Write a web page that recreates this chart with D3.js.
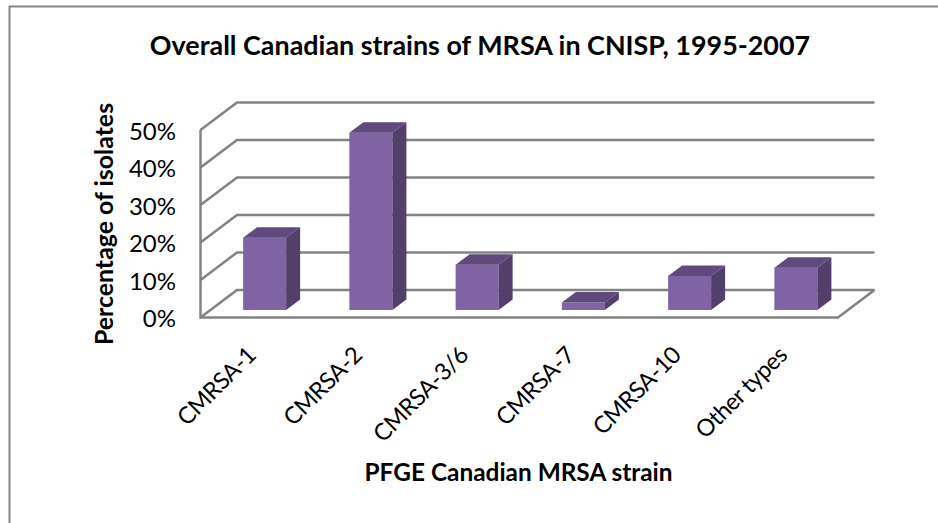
<!DOCTYPE html>
<html>
<head>
<meta charset="utf-8">
<script src="https://d3js.org/d3.v7.min.js"></script>
<style>
  body { margin: 0; background: #fff; }
  svg { display: block; }
  text { font-family: Lato, "Open Sans", sans-serif; fill: #000; }
</style>
</head>
<body>
<div id="chart"></div>
<script>
// values
var categories = ["CMRSA-1", "CMRSA-2", "CMRSA-3/6", "CMRSA-7", "CMRSA-10", "Other types"];
var percentages = [19.3, 47.3, 12.1, 2, 9.1, 11.3];
var yTicks = [0, 10, 20, 30, 40, 50];

var width = 938, height = 523;

// plot box (front plane of the fake 3d chart)
var margin = {left: 200.5, right: 100, top: 130, bottom: 205.5};
var depth = {x: 36.5, y: -27.5};          // floor depth
var barShift = {x: 10, y: -7.5};          // where the bar's front face sits on the floor
var barDepth = {x: 14, y: -10.5};

var svg = d3.select("#chart").append("svg")
    .attr("width", width)
    .attr("height", height);

// blur, the reference is a soft upscaled image
var blur = svg.append("defs").append("filter")
    .attr("id", "soft");
blur.append("feGaussianBlur").attr("stdDeviation", 0.45);

// outer frame, only top and left are visible
svg.append("path")
    .attr("d", "M9.5," + height + "V6.5H" + width)
    .attr("fill", "none")
    .attr("stroke", "#858585")
    .attr("stroke-width", 2);

var x = d3.scaleBand()
    .domain(categories)
    .range([margin.left, width - margin.right]);

var y = d3.scaleLinear()
    .domain([0, 50])
    .range([height - margin.bottom, margin.top]);

// walls and floor
var grid = svg.append("g")
    .attr("fill", "none")
    .attr("stroke", "#828282")
    .attr("stroke-width", 2.5)
    .attr("filter", "url(#soft)");

grid.selectAll(".wall")
    .data(yTicks)
    .enter().append("path")
    .attr("class", "wall")
    .attr("d", function(d) {
        return "M" + margin.left + "," + y(d) +
            "L" + (margin.left + depth.x) + "," + (y(d) + depth.y) +
            "H" + (width - margin.right + depth.x);
    });

grid.append("path")
    .attr("d", "M" + margin.left + "," + y(50) + "V" + y(0) +
        "H" + (width - margin.right) +
        "L" + (width - margin.right + depth.x) + "," + (y(0) + depth.y));

// bars: front, top and side faces
var barWidth = 43;
var bars = svg.selectAll(".bar")
    .data(percentages)
    .enter().append("g")
    .attr("class", "bar")
    .attr("filter", "url(#soft)")
    .attr("transform", function(d, i) {
        var left = x(categories[i]) + x.bandwidth() / 2 + barShift.x - barWidth / 2 + 1;
        return "translate(" + left + "," + barShift.y + ")";
    });

bars.append("rect")
    .attr("y", function(d) { return y(d); })
    .attr("width", barWidth)
    .attr("height", function(d) { return y(0) - y(d); })
    .attr("fill", "#8064a2");

bars.append("path")
    .attr("fill", "#604a7b")
    .attr("d", function(d) {
        return "M0," + y(d) +
            "l" + barDepth.x + "," + barDepth.y +
            "h" + barWidth +
            "l" + (-barDepth.x) + "," + (-barDepth.y) + "Z";
    });

bars.append("path")
    .attr("fill", "#533f6b")
    .attr("d", function(d) {
        return "M" + barWidth + "," + y(d) +
            "l" + barDepth.x + "," + barDepth.y +
            "V" + (y(0) + barDepth.y) +
            "L" + barWidth + "," + y(0) + "Z";
    });

// y axis labels
var yAxis = svg.append("g")
    .attr("transform", "translate(176,1.5)")
    .call(d3.axisLeft(y).tickValues(yTicks).tickSize(0).tickPadding(0)
        .tickFormat(function(d) { return d + "%"; }));
yAxis.select(".domain").remove();
yAxis.selectAll("text")
    .style("font-size", "24px");

// x axis labels
var xAxis = svg.append("g")
    .attr("transform", "translate(-8,345)")
    .call(d3.axisBottom(x).tickSize(0).tickPadding(0));
xAxis.select(".domain").remove();
xAxis.selectAll("text")
    .style("font-size", "23.5px")
    .style("letter-spacing", "-0.5px")
    .attr("text-anchor", "end")
    .attr("dy", "0.7em")
    .attr("transform", "rotate(-45)");

svg.append("text")
    .attr("x", 480)
    .attr("y", 55)
    .attr("text-anchor", "middle")
    .attr("font-weight", "bold")
    .style("font-size", "26.9px")
    .text("Overall Canadian strains of MRSA in CNISP, 1995-2007");

svg.append("text")
    .attr("x", 518.5)
    .attr("y", 481)
    .attr("text-anchor", "middle")
    .attr("font-weight", "bold")
    .style("font-size", "24.4px")
    .text("PFGE Canadian MRSA strain");

svg.append("text")
    .attr("transform", "translate(113,224) rotate(-90)")
    .attr("text-anchor", "middle")
    .attr("font-weight", "bold")
    .style("font-size", "24.9px")
    .text("Percentage of isolates");
</script>
</body>
</html>
